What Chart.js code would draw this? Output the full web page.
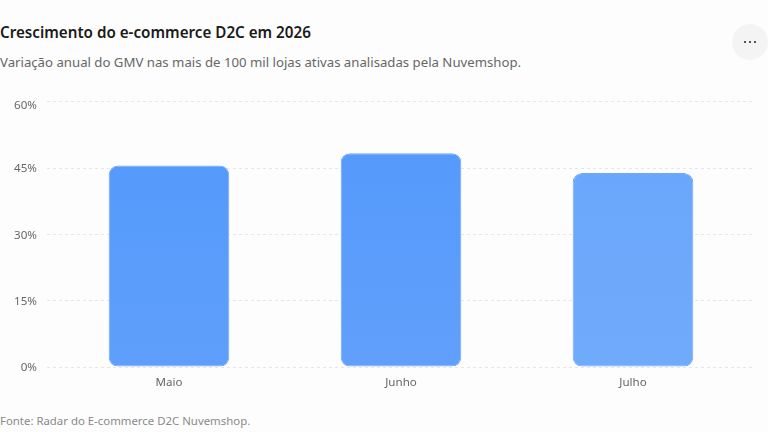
<!DOCTYPE html>
<html lang="pt-BR">
<head>
<meta charset="utf-8">
<title>Crescimento do e-commerce D2C em 2026</title>
<script src="https://cdn.jsdelivr.net/npm/chart.js@4/dist/chart.umd.min.js"></script>
<style>
  html, body { margin: 0; width: 768px; height: 432px; overflow: hidden; background: #fdfdfd; font-family: "Noto Sans", sans-serif; }
  #title { position: absolute; left: 0; top: 22px; font-size: 15.2px; line-height: 20px; font-weight: 600; color: #1a1a1a; white-space: nowrap; }
  #subtitle { position: absolute; left: 0; top: 52px; font-size: 13.2px; line-height: 20px; color: #666; white-space: nowrap; }
  #source { position: absolute; left: 0; top: 412px; font-size: 11.4px; line-height: 18px; color: #8a8a8a; white-space: nowrap; }
  #menu { position: absolute; left: 732px; top: 24px; width: 36px; height: 36px; border-radius: 50%; background: #f4f4f4; color: #555; }
  #menu i { position: absolute; top: 17px; width: 2px; height: 2px; background: #555; }
  #wrap { position: absolute; left: 0; top: 85px; width: 768px; height: 306px; }
</style>
</head>
<body>
<div id="title">Crescimento do e-commerce D2C em 2026</div>
<div id="subtitle">Variação anual do GMV nas mais de 100 mil lojas ativas analisadas pela Nuvemshop.</div>
<div id="menu"><i style="left:12px"></i><i style="left:17px"></i><i style="left:22px"></i></div>
<div id="wrap"><canvas id="myChart"></canvas></div>
<div id="source">Fonte: Radar do E-commerce D2C Nuvemshop.</div>
<script>
const meses = ['Maio', 'Junho', 'Julho']
const crescimento = [45.6, 48.4, 43.9]
const marcas = [0, 15, 30, 45, 60]

const topo = ['#5299fb', '#5299fb', '#68a5fb']
const base = ['#5f9ffb', '#619ffb', '#70aafb']

function preenchimento(c) {
  const area = c.chart.chartArea
  if (!area) return topo[c.dataIndex]
  const g = c.chart.ctx.createLinearGradient(0, area.top, 0, area.bottom)
  g.addColorStop(0, topo[c.dataIndex])
  g.addColorStop(1, base[c.dataIndex])
  return g
}

const grade = {
  color: '#e6e6e6',
  lineWidth: 1,
  tickBorderDash: [3, 3],
  tickColor: '#e6e6e6'
}
const fonte = { family: 'Noto Sans', size: 11.6 }

// o rotulo de 60% fica mais baixo que a linha, como no original
const rotuloTopo = {
  id: 'rotuloTopo',
  beforeDraw(chart) {
    const itens = chart.scales.y.getLabelItems()
    const item = itens[itens.length - 1]
    if (!item.movido) {
      item.options.translation[1] += 3.5
      item.movido = true
    }
  }
}

const ctx = document.getElementById('myChart')
new Chart(ctx, {
  type: 'bar',
  data: {
    labels: meses,
    datasets: [{
      data: crescimento,
      backgroundColor: preenchimento,
      borderColor: '#6ea8fb',
      borderWidth: 1,
      borderRadius: 9,
      borderSkipped: false,
      categoryPercentage: 0.52,
      barPercentage: 1
    }]
  },
  plugins: [rotuloTopo],
  options: {
    responsive: true,
    maintainAspectRatio: false,
    animation: false,
    layout: { padding: { top: 0, right: 16, bottom: 0, left: 0 } },
    plugins: { legend: { display: false }, tooltip: { enabled: false } },
    scales: {
      x: {
        grid: { display: false },
        border: { display: false },
        ticks: { color: '#666', font: fonte, padding: 1 }
      },
      y: {
        min: 0,
        max: 60,
        afterBuildTicks: s => { s.ticks = marcas.map(v => ({ value: v })) },
        afterFit: s => { s.width = 53 },
        grid: { ...grade, tickLength: 6 },
        border: { display: false, dash: [3, 3] },
        ticks: { color: '#666', font: fonte, padding: 10, labelOffset: 0.7, callback: v => v + '%' }
      },
      direita: {
        position: 'right',
        min: 0,
        max: 60,
        afterBuildTicks: s => { s.ticks = marcas.map(v => ({ value: v })) },
        afterFit: s => { s.width = 3 },
        grid: { ...grade, tickLength: 3, drawOnChartArea: false },
        border: { display: false },
        ticks: { display: false }
      }
    }
  }
})
</script>
</body>
</html>
